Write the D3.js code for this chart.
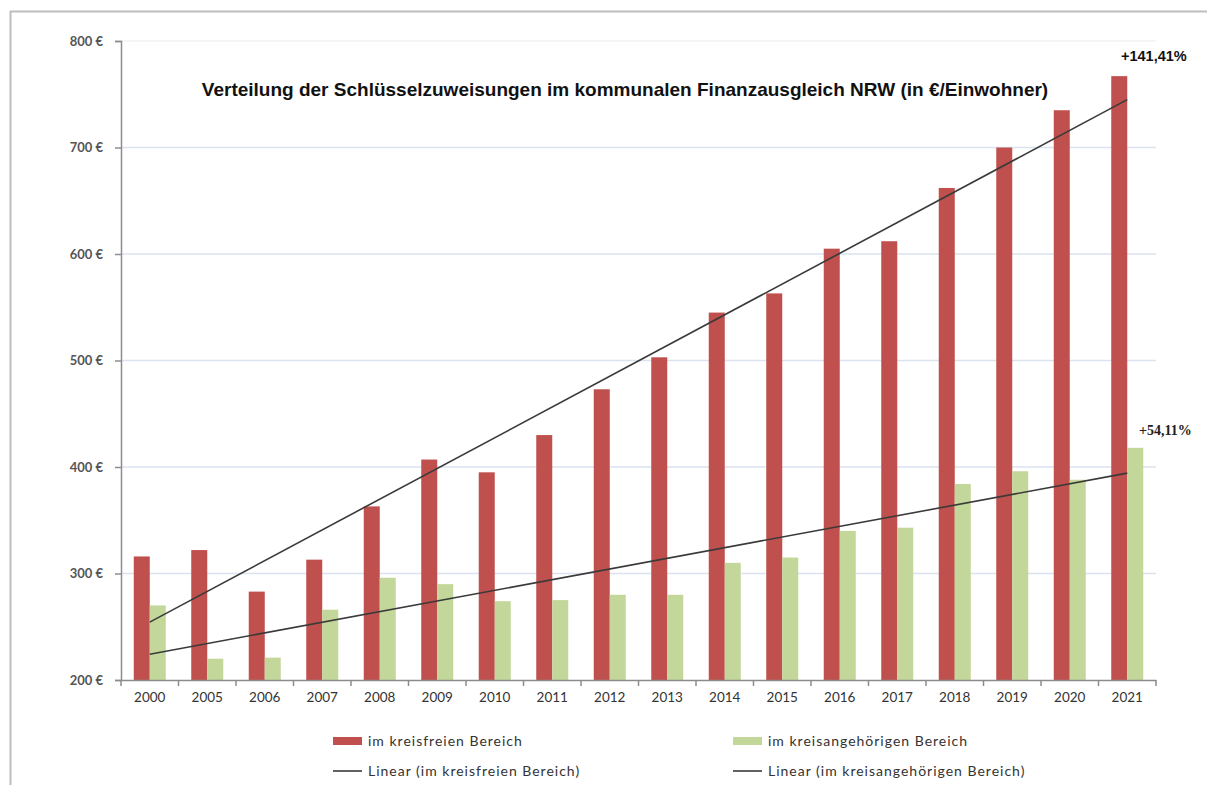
<!DOCTYPE html>
<html>
<head>
  <meta charset="utf-8">
  <title>Verteilung der Schlüsselzuweisungen</title>
  <script src="https://cdn.jsdelivr.net/npm/d3@7"></script>
  <style>
    body { margin: 0; background: #fff; }
    svg text { font-family: Lato, "Open Sans", sans-serif; }
  </style>
</head>
<body>
<script>
  // data
  var years = ["2000","2005","2006","2007","2008","2009","2010","2011","2012",
               "2013","2014","2015","2016","2017","2018","2019","2020","2021"];
  var kreisfrei = [316, 322, 283, 313, 363, 407, 395, 430, 473,
                   503, 545, 563, 605, 612, 662, 700, 735, 767];
  var kreisangehoerig = [270, 220, 221, 266, 296, 290, 274, 275, 280,
                         280, 310, 315, 340, 343, 384, 396, 388, 418];
  var yTicks = [200, 300, 400, 500, 600, 700, 800];

  var width = 1207, height = 785;
  var margin = {top: 41, right: 51, bottom: 105, left: 121};
  var plotW = width - margin.left - margin.right;
  var plotH = height - margin.top - margin.bottom;

  var svg = d3.select("body").append("svg")
      .attr("width", width)
      .attr("height", height);

  // outer frame
  svg.append("rect")
      .attr("x", 10.5).attr("y", 11.5)
      .attr("width", 1220).attr("height", 800)
      .attr("fill", "none")
      .attr("stroke", "#bdbdbd")
      .attr("stroke-width", 2);

  var g = svg.append("g")
      .attr("transform", "translate(" + margin.left + "," + margin.top + ")");

  var x = d3.scaleBand().domain(years).range([0, plotW]);
  var y = d3.scaleLinear().domain([200, 800]).range([plotH, 0]);

  // grid lines
  g.selectAll(".grid")
    .data(yTicks.filter(d => d > 200))
    .enter().append("line")
      .attr("x1", 0).attr("x2", plotW)
      .attr("y1", d => y(d)).attr("y2", d => y(d))
      .attr("stroke", d => d == 800 ? "#f2f2f2" : "#dbe3f1")
      .attr("stroke-width", 1.5);

  // bars
  var barW = 16;
  var offset = (x.bandwidth() - 2 * barW) / 2;

  g.selectAll(".red")
    .data(kreisfrei)
    .enter().append("rect")
      .attr("x", (d, i) => x(years[i]) + offset)
      .attr("y", d => y(d))
      .attr("width", barW)
      .attr("height", d => plotH - y(d))
      .attr("fill", "#c0504d");

  g.selectAll(".green")
    .data(kreisangehoerig)
    .enter().append("rect")
      .attr("x", (d, i) => x(years[i]) + offset + barW)
      .attr("y", d => y(d))
      .attr("width", barW)
      .attr("height", d => plotH - y(d))
      .attr("fill", "#c4d79b");

  // linear trend lines (least squares on index)
  function trend(vals) {
    var n = vals.length;
    var mx = d3.mean(vals, (d, i) => i);
    var my = d3.mean(vals);
    var num = d3.sum(vals, (d, i) => (i - mx) * (d - my));
    var den = d3.sum(vals, (d, i) => (i - mx) * (i - mx));
    var b = num / den;
    var a = my - b * mx;
    return [[0, a], [n - 1, a + b * (n - 1)]];
  }

  var lineGen = d3.line()
      .x(d => x(years[d[0]]) + x.bandwidth() / 2)
      .y(d => y(d[1]));

  [kreisfrei, kreisangehoerig].forEach(function (vals) {
    g.append("path")
      .datum(trend(vals))
      .attr("d", lineGen)
      .attr("fill", "none")
      .attr("stroke", "#3a3a3a")
      .attr("stroke-width", 1.6);
  });

  // y axis
  var yAxis = g.append("g")
      .call(d3.axisLeft(y).tickValues(yTicks).tickSize(6).tickFormat(d => d + " €"));
  yAxis.select(".domain").attr("stroke", "#8c8c8c").attr("stroke-width", 1.5);
  yAxis.selectAll(".tick line").attr("stroke", "#8c8c8c").attr("stroke-width", 1.5);
  yAxis.selectAll(".tick text")
      .attr("x", -18)
      .style("font-size", "13px")
      .style("font-weight", "bold")
      .attr("fill", "#555");

  // x axis
  var xAxis = g.append("g")
      .attr("transform", "translate(0," + plotH + ")")
      .call(d3.axisBottom(x).tickSize(0).tickPadding(12));
  xAxis.select(".domain").attr("stroke", "#8c8c8c").attr("stroke-width", 1.5);
  xAxis.selectAll(".tick text")
      .style("font-size", "13.5px")
      .attr("fill", "#333");
  xAxis.selectAll(".sep")
    .data(years.concat(["end"]))
    .enter().append("line")
      .attr("x1", (d, i) => i * x.step())
      .attr("x2", (d, i) => i * x.step())
      .attr("y1", 0).attr("y2", 6)
      .attr("stroke", "#8c8c8c")
      .attr("stroke-width", 1.5);

  // title
  svg.append("text")
      .attr("x", 625).attr("y", 96)
      .attr("text-anchor", "middle")
      .style("font-family", "'Liberation Sans', Arial, sans-serif")
      .style("font-weight", "bold")
      .style("font-size", "19px")
      .attr("fill", "#111")
      .text("Verteilung der Schlüsselzuweisungen im kommunalen Finanzausgleich NRW (in €/Einwohner)");

  // growth annotations
  svg.append("text")
      .attr("x", 1121).attr("y", 61)
      .style("font-family", "'Liberation Sans', Arial, sans-serif")
      .style("font-weight", "bold")
      .style("font-size", "14.5px")
      .attr("fill", "#111")
      .text("+141,41%");

  svg.append("text")
      .attr("x", 1139).attr("y", 435)
      .style("font-family", "'Liberation Serif', serif")
      .style("font-weight", "bold")
      .style("font-size", "14px")
      .attr("fill", "#222")
      .text("+54,11%");

  // legend
  var legend = [
    {label: "im kreisfreien Bereich", type: "bar", color: "#c0504d", lx: 333, ly: 741},
    {label: "im kreisangehörigen Bereich", type: "bar", color: "#c4d79b", lx: 733, ly: 741},
    {label: "Linear (im kreisfreien Bereich)", type: "line", color: "#3a3a3a", lx: 333, ly: 771},
    {label: "Linear (im kreisangehörigen Bereich)", type: "line", color: "#3a3a3a", lx: 733, ly: 771}
  ];

  legend.forEach(function (d) {
    if (d.type == "bar") {
      svg.append("rect")
        .attr("x", d.lx).attr("y", d.ly - 4)
        .attr("width", 29).attr("height", 8)
        .attr("fill", d.color);
    } else {
      svg.append("line")
        .attr("x1", d.lx).attr("x2", d.lx + 29)
        .attr("y1", d.ly).attr("y2", d.ly)
        .attr("stroke", d.color)
        .attr("stroke-width", 1.6);
    }
    svg.append("text")
      .attr("x", d.lx + 35).attr("y", d.ly + 5)
      .style("font-size", "14px")
      .style("letter-spacing", "1px")
      .attr("fill", "#333")
      .text(d.label);
  });
</script>
</body>
</html>
